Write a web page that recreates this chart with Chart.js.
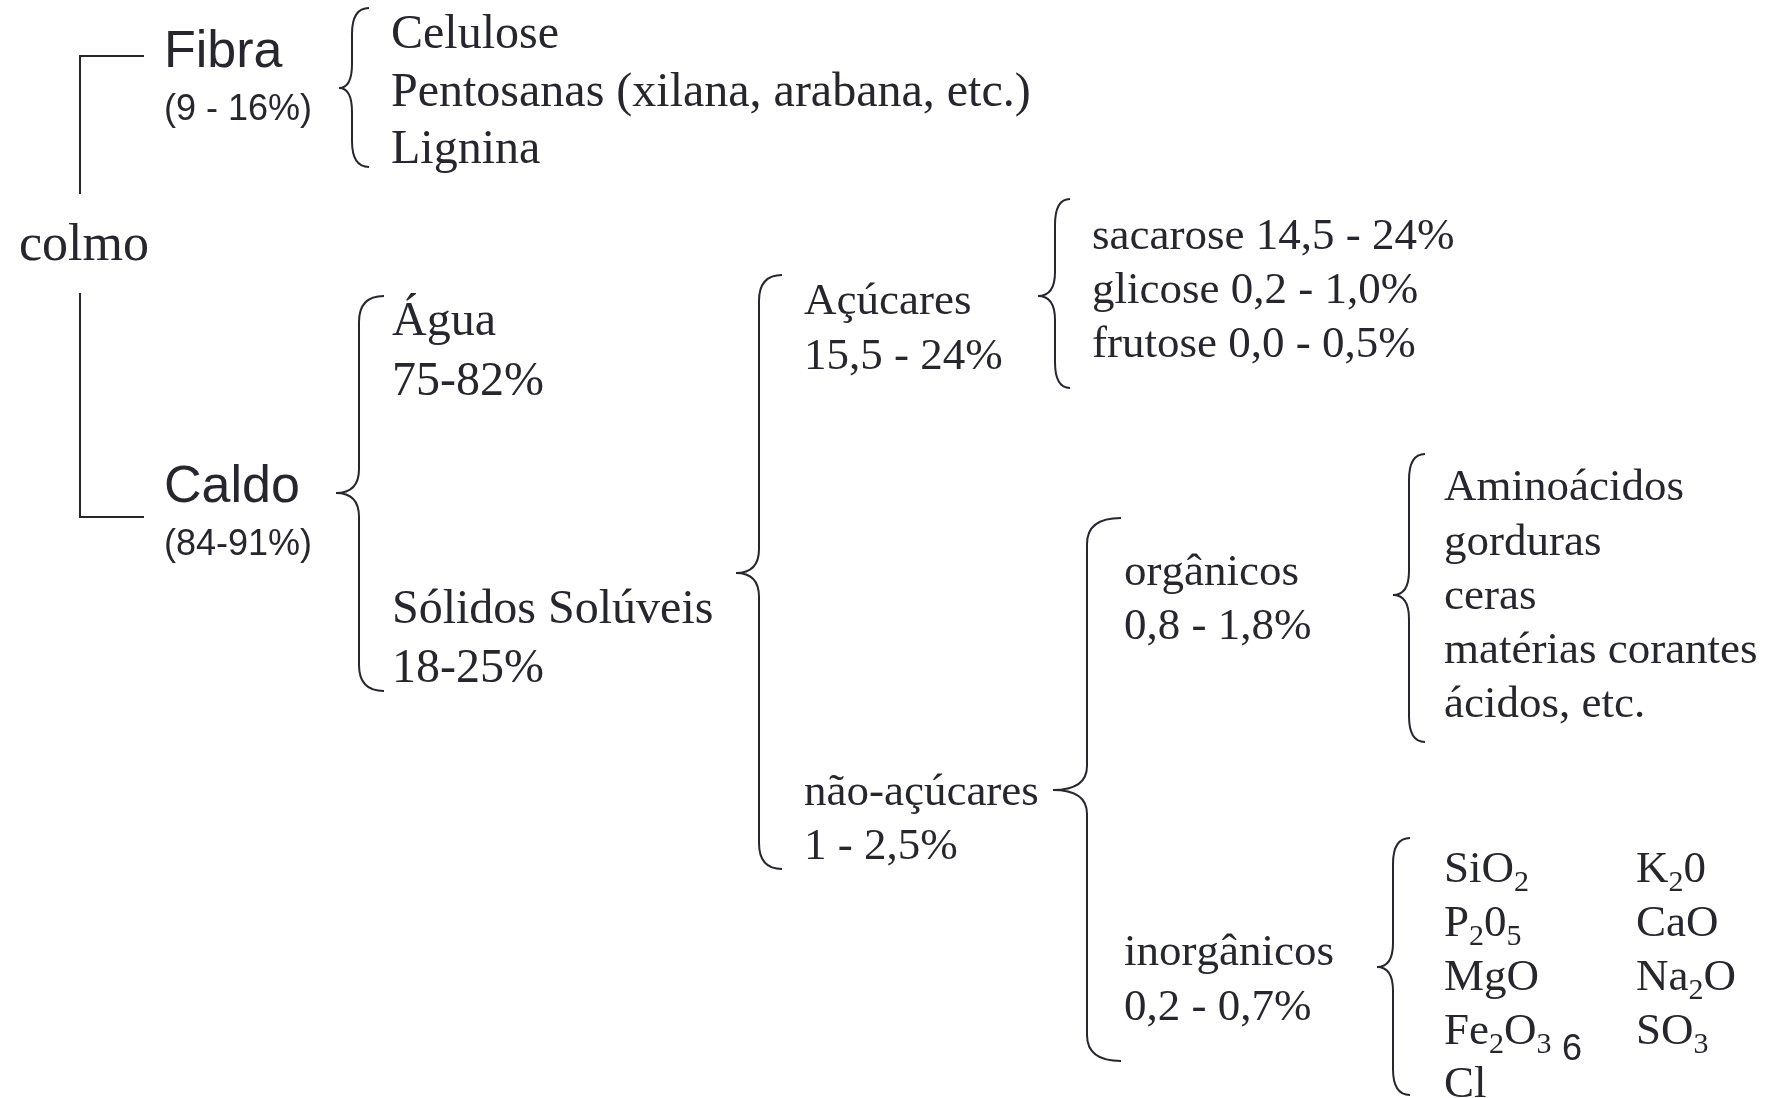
<!DOCTYPE html>
<html>
<head>
<meta charset="utf-8">
<script src="https://cdn.jsdelivr.net/npm/chart.js@4"></script>
<style>
  html, body { margin: 0; padding: 0; background: #fff; }
  #wrap { width: 1770px; height: 1098px; }
</style>
</head>
<body>
<div id="wrap"><canvas id="tree"></canvas></div>
<script>
// diagram content
const rootLabel = "colmo";
const mainGroups = ["Fibra", "Caldo"];
const mainShares = ["(9 - 16%)", "(84-91%)"];
const fibraItems = ["Celulose", "Pentosanas (xilana, arabana, etc.)", "Lignina"];
const caldoGroups = ["Água", "Sólidos Solúveis"];
const caldoShares = ["75-82%", "18-25%"];
const solidGroups = ["Açúcares", "não-açúcares"];
const solidShares = ["15,5 - 24%", "1 - 2,5%"];
const sugarItems = ["sacarose 14,5 - 24%", "glicose 0,2 - 1,0%", "frutose 0,0 - 0,5%"];
const nonSugarGroups = ["orgânicos", "inorgânicos"];
const nonSugarShares = ["0,8 - 1,8%", "0,2 - 0,7%"];
const organicItems = ["Aminoácidos", "gorduras", "ceras", "matérias corantes", "ácidos, etc."];
const inorganicCol1 = ["SiO_2", "P_20_5", "MgO", "Fe_2O_3", "Cl"];
const inorganicCol2 = ["K_20", "CaO", "Na_2O", "SO_3"];
const pageNote = "6";

// layout (diagram units = pixels of the original picture)
const SERIF = '"Liberation Serif", "Times New Roman", serif';
const SANS = '"Liberation Sans", Arial, sans-serif';
const INK = "#26262e";

const layout = {
  root: { x: 19, y: 246, size: 52 },
  main: { x: 164, y: [53, 488], size: 52, shareY: [110, 545], shareSize: 36 },
  fibra: { x: 391, y: [35, 93, 150], size: 48 },
  caldo: { x: 392, y: [322, 610], shareY: [382, 669], size: 48 },
  solid: { x: 804, y: [302, 793], shareY: [357, 847], size: 45 },
  sugar: { x: 1092, y: [237, 291, 345], size: 45 },
  nonSugar: { x: 1124, y: [573, 953], shareY: [627, 1008], size: 45 },
  organic: { x: 1444, y: [488, 543, 597, 651, 705], size: 45 },
  inorganic: { x: [1444, 1636], y: [870, 924, 978, 1032, 1085], size: 45 },
  note: { x: 1562, y: 1050, size: 36 }
};

// braces: [tip x, bar x, end x, top y, tip y, bottom y]
const braces = [
  [339, 352, 369, 8, 88, 167],
  [336, 359, 384, 296, 493, 691],
  [736, 759, 782, 275, 573, 869],
  [1038, 1055, 1070, 199, 296, 388],
  [1053, 1087, 1121, 518, 790, 1061],
  [1393, 1409, 1425, 454, 595, 742],
  [1377, 1393, 1410, 838, 967, 1095]
];
const bracket = [
  [[144, 56], [80, 56], [80, 194]],
  [[80, 293], [80, 517], [144, 517]]
];

// build text anchors
const nodes = [];
function add(text, x, y, size, family) {
  nodes.push({ x: x, y: y, text: text, size: size, family: family });
}
add(rootLabel, layout.root.x, layout.root.y, layout.root.size, SERIF);
mainGroups.forEach((t, i) => {
  add(t, layout.main.x, layout.main.y[i], layout.main.size, SANS);
  add(mainShares[i], layout.main.x, layout.main.shareY[i], layout.main.shareSize, SANS);
});
fibraItems.forEach((t, i) => add(t, layout.fibra.x, layout.fibra.y[i], layout.fibra.size, SERIF));
caldoGroups.forEach((t, i) => {
  add(t, layout.caldo.x, layout.caldo.y[i], layout.caldo.size, SERIF);
  add(caldoShares[i], layout.caldo.x, layout.caldo.shareY[i], layout.caldo.size, SERIF);
});
solidGroups.forEach((t, i) => {
  add(t, layout.solid.x, layout.solid.y[i], layout.solid.size, SERIF);
  add(solidShares[i], layout.solid.x, layout.solid.shareY[i], layout.solid.size, SERIF);
});
sugarItems.forEach((t, i) => add(t, layout.sugar.x, layout.sugar.y[i], layout.sugar.size, SERIF));
nonSugarGroups.forEach((t, i) => {
  add(t, layout.nonSugar.x, layout.nonSugar.y[i], layout.nonSugar.size, SERIF);
  add(nonSugarShares[i], layout.nonSugar.x, layout.nonSugar.shareY[i], layout.nonSugar.size, SERIF);
});
organicItems.forEach((t, i) => add(t, layout.organic.x, layout.organic.y[i], layout.organic.size, SERIF));
inorganicCol1.forEach((t, i) => add(t, layout.inorganic.x[0], layout.inorganic.y[i], layout.inorganic.size, SERIF));
inorganicCol2.forEach((t, i) => add(t, layout.inorganic.x[1], layout.inorganic.y[i], layout.inorganic.size, SERIF));
add(pageNote, layout.note.x, layout.note.y, layout.note.size, SANS);

// draws text with "_x" meaning subscript x
function drawRich(ctx, text, x, y, size, family) {
  let cx = x;
  for (let i = 0; i < text.length; i++) {
    let ch = text[i];
    let sub = false;
    if (ch === "_" && i + 1 < text.length) {
      sub = true;
      ch = text[++i];
    }
    const s = sub ? Math.round(size * 0.66) : size;
    ctx.font = s + "px " + family;
    ctx.fillText(ch, cx, sub ? y + size * 0.3 : y);
    cx += ctx.measureText(ch).width;
  }
}

function drawBrace(ctx, sx, sy, b) {
  const tip = sx(b[0]), bar = sx(b[1]), end = sx(b[2]);
  const top = sy(b[3]), mid = sy(b[4]), bot = sy(b[5]);
  const r = Math.min(26, (mid - top) / 3);
  const rt = Math.min(24, (mid - top) / 3);
  ctx.beginPath();
  ctx.moveTo(end, top);
  ctx.quadraticCurveTo(bar, top, bar, top + r);
  ctx.lineTo(bar, mid - rt);
  ctx.quadraticCurveTo(bar, mid, tip, mid);
  ctx.quadraticCurveTo(bar, mid, bar, mid + rt);
  ctx.lineTo(bar, bot - r);
  ctx.quadraticCurveTo(bar, bot, end, bot);
  ctx.stroke();
}

const treePlugin = {
  id: "tree",
  beforeDatasetsDraw(chart) {
    const ctx = chart.ctx;
    const sx = v => chart.scales.x.getPixelForValue(v);
    const sy = v => chart.scales.y.getPixelForValue(v);
    ctx.save();
    ctx.strokeStyle = INK;
    ctx.lineWidth = 2;
    ctx.lineCap = "butt";
    bracket.forEach(seg => {
      ctx.beginPath();
      seg.forEach((p, i) => {
        if (i === 0) ctx.moveTo(sx(p[0]), sy(p[1]));
        else ctx.lineTo(sx(p[0]), sy(p[1]));
      });
      ctx.stroke();
    });
    braces.forEach(b => drawBrace(ctx, sx, sy, b));
    ctx.restore();
  },
  afterDatasetsDraw(chart) {
    const ctx = chart.ctx;
    const meta = chart.getDatasetMeta(0);
    ctx.save();
    ctx.fillStyle = INK;
    ctx.textAlign = "left";
    ctx.textBaseline = "middle";
    meta.data.forEach((el, i) => {
      const n = nodes[i];
      drawRich(ctx, n.text, el.x, el.y, n.size, n.family);
    });
    ctx.restore();
  }
};

new Chart(document.getElementById("tree"), {
  type: "scatter",
  data: {
    datasets: [{
      data: nodes.map(n => ({ x: n.x, y: n.y })),
      pointRadius: 0,
      pointHoverRadius: 0
    }]
  },
  options: {
    responsive: true,
    maintainAspectRatio: false,
    animation: false,
    layout: { padding: 0 },
    plugins: { legend: { display: false }, tooltip: { enabled: false } },
    scales: {
      x: { type: "linear", min: 0, max: 1770, display: false },
      y: { type: "linear", min: 0, max: 1098, reverse: true, display: false }
    }
  },
  plugins: [treePlugin]
});
</script>
</body>
</html>
